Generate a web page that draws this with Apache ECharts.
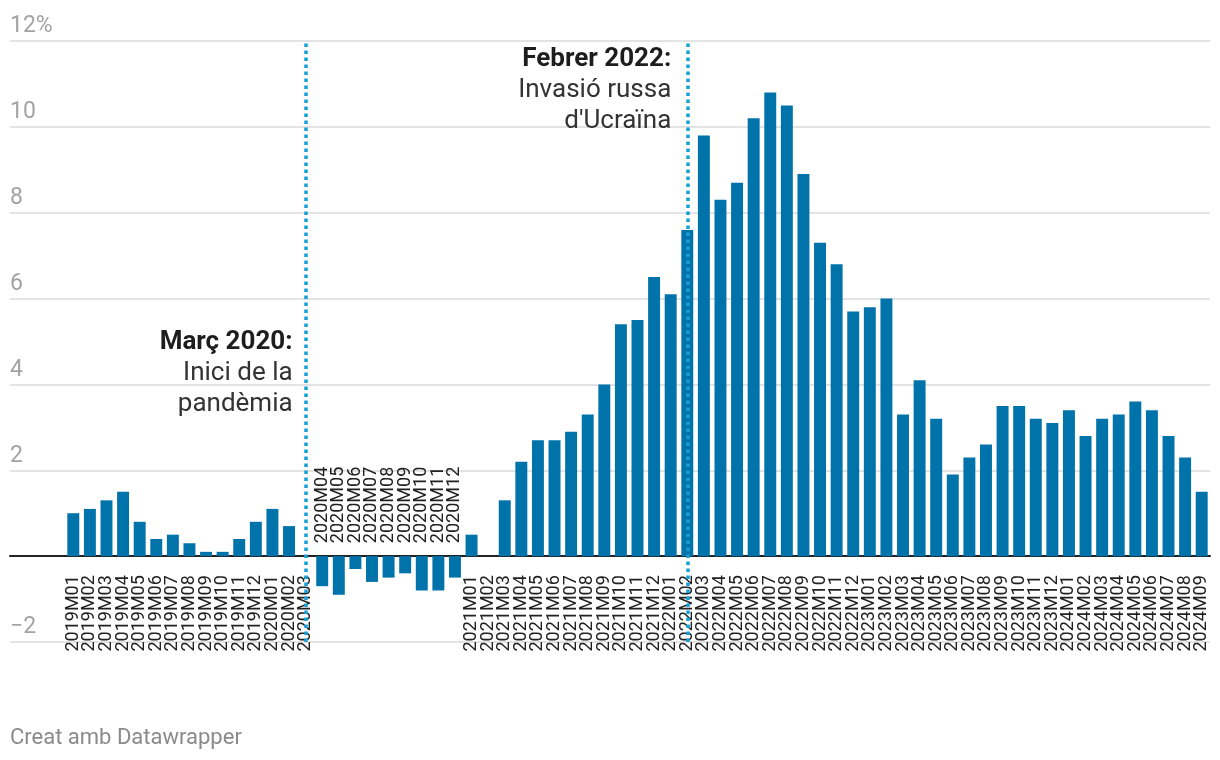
<!DOCTYPE html>
<html><head><meta charset="utf-8">
<script src="https://cdn.jsdelivr.net/npm/echarts@6/dist/echarts.min.js"></script>
<style>html,body{margin:0;padding:0;background:#fff}#c{width:1220px;height:760px}</style>
</head><body><div id="c"></div>
<script>
const categories = [
 '2019M01','2019M02','2019M03','2019M04','2019M05','2019M06','2019M07','2019M08','2019M09','2019M10','2019M11','2019M12',
 '2020M01','2020M02','2020M03','2020M04','2020M05','2020M06','2020M07','2020M08','2020M09','2020M10','2020M11','2020M12',
 '2021M01','2021M02','2021M03','2021M04','2021M05','2021M06','2021M07','2021M08','2021M09','2021M10','2021M11','2021M12',
 '2022M01','2022M02','2022M03','2022M04','2022M05','2022M06','2022M07','2022M08','2022M09','2022M10','2022M11','2022M12',
 '2023M01','2023M02','2023M03','2023M04','2023M05','2023M06','2023M07','2023M08','2023M09','2023M10','2023M11','2023M12',
 '2024M01','2024M02','2024M03','2024M04','2024M05','2024M06','2024M07','2024M08','2024M09'
];
const values = [
 1.0,1.1,1.3,1.5,0.8,0.4,0.5,0.3,0.1,0.1,0.4,0.8,
 1.1,0.7,0.0,-0.7,-0.9,-0.3,-0.6,-0.5,-0.4,-0.8,-0.8,-0.5,
 0.5,0.0,1.3,2.2,2.7,2.7,2.9,3.3,4.0,5.4,5.5,6.5,
 6.1,7.6,9.8,8.3,8.7,10.2,10.8,10.5,8.9,7.3,6.8,5.7,
 5.8,6.0,3.3,4.1,3.2,1.9,2.3,2.6,3.5,3.5,3.2,3.1,
 3.4,2.8,3.2,3.3,3.6,3.4,2.8,2.3,1.5
];
const eventMonths = ['2020M03','2022M02'];
const annotationAnchors = [['2020M03', 5.4], ['2022M02', 12]];
const annotationTitles = ['Març 2020:', 'Febrer 2022:'];
const annotationBodies = [['Inici de la','pandèmia'], ["Invasió russa","d'Ucraïna"]];
const yTicks = [-2,0,2,4,6,8,10,12];
const footerText = 'Creat amb Datawrapper';

// styling
const BAR = '#0073aa', EVENT = '#17a0d5';
const annOffsetX = [-13, -16];
const yMin = yTicks[0], yMax = yTicks[yTicks.length-1], yStep = yTicks[1]-yTicks[0];

function yFmt(v){
  if (v === 0) return '';
  if (v === yMax) return v + '%';
  return v < 0 ? '\u2212' + Math.abs(v) : String(v);
}

function renderTick(params, api){
  const v = api.value(1);
  const p = api.coord([api.value(0), 0]);
  const neg = v < 0;
  return {type:'text', x: p[0], y: neg ? p[1]-13 : p[1]+19, rotation: Math.PI/2, z2: 10,
    style:{text: categories[params.dataIndex], align: neg ? 'left' : 'right', verticalAlign:'middle',
      font:'18px Roboto', fill:'#222'}};
}

function renderAnn(params, api){
  const i = params.dataIndex;
  const p = api.coord([api.value(0), api.value(1)]);
  const x = p[0] + annOffsetX[i];
  const lines = [annotationTitles[i]].concat(annotationBodies[i]);
  return {type:'group', children: lines.map((t,k)=>({type:'text', x: x, y: p[1] + 18.5 + k*31,
    style:{text:t, align:'right', verticalAlign:'middle',
      font:(k===0 ? 'bold ' : '') + '26px Roboto', fill: k===0 ? '#1d1d1d' : '#333'}}))};
}

const chart = echarts.init(document.getElementById('c'), null, {renderer:'canvas'});
chart.setOption({
  animation:false,
  backgroundColor:'#fff',
  textStyle:{fontFamily:'Roboto'},
  title:{text: footerText, left:10, top:727, padding:0,
    textStyle:{fontFamily:'Roboto', fontSize:22, fontWeight:'normal', color:'#8a8a8a'}},
  grid:[
    {left:10, right:10, top:41, bottom:118, outerBoundsMode:'none', containLabel:false},
    {left:65, right:10, top:41, bottom:118, outerBoundsMode:'none', containLabel:false}
  ],
  xAxis:[
    {gridIndex:0, type:'value', min:0, max:1, axisLabel:{show:false}, axisTick:{show:false}, splitLine:{show:false},
      axisLine:{show:true, onZero:true, lineStyle:{color:'#222', width:2}}},
    {gridIndex:1, type:'category', data:categories, boundaryGap:true, axisLabel:{show:false}, axisTick:{show:false},
      axisLine:{show:false}, splitLine:{show:false}}
  ],
  yAxis:[
    {gridIndex:0, type:'value', min:yMin, max:yMax, interval:yStep, position:'left',
      axisLine:{show:false}, axisTick:{show:false},
      splitLine:{show:true, lineStyle:{color:'#e3e3e3', width:2}},
      axisLabel:{inside:true, margin:0, align:'left', verticalAlign:'bottom', padding:[0,0,3,0],
        fontFamily:'Roboto', fontSize:23, color:'#a3a3a3', formatter:yFmt, showMinLabel:true, showMaxLabel:true}},
    {gridIndex:1, type:'value', min:yMin, max:yMax, interval:yStep, show:false, splitLine:{show:false}}
  ],
  series:[
    {type:'bar', xAxisIndex:1, yAxisIndex:1, data:values, barCategoryGap:'28%',
      itemStyle:{color:BAR}, z:3,
      markLine:{silent:true, symbol:'none', label:{show:false}, z:6,
        lineStyle:{color:EVENT, type:[3.5,3.5], width:3.5},
        data: eventMonths.map(m=>({xAxis:m}))}},
    {type:'custom', xAxisIndex:1, yAxisIndex:1, clip:false, z:5, silent:true,
      data: categories.map((c,i)=>[i, values[i]]), renderItem: renderTick},
    {type:'custom', xAxisIndex:1, yAxisIndex:1, clip:false, z:5, silent:true,
      data: annotationAnchors.map(a=>[categories.indexOf(a[0]), a[1]]), renderItem: renderAnn}
  ]
});
</script></body></html>
